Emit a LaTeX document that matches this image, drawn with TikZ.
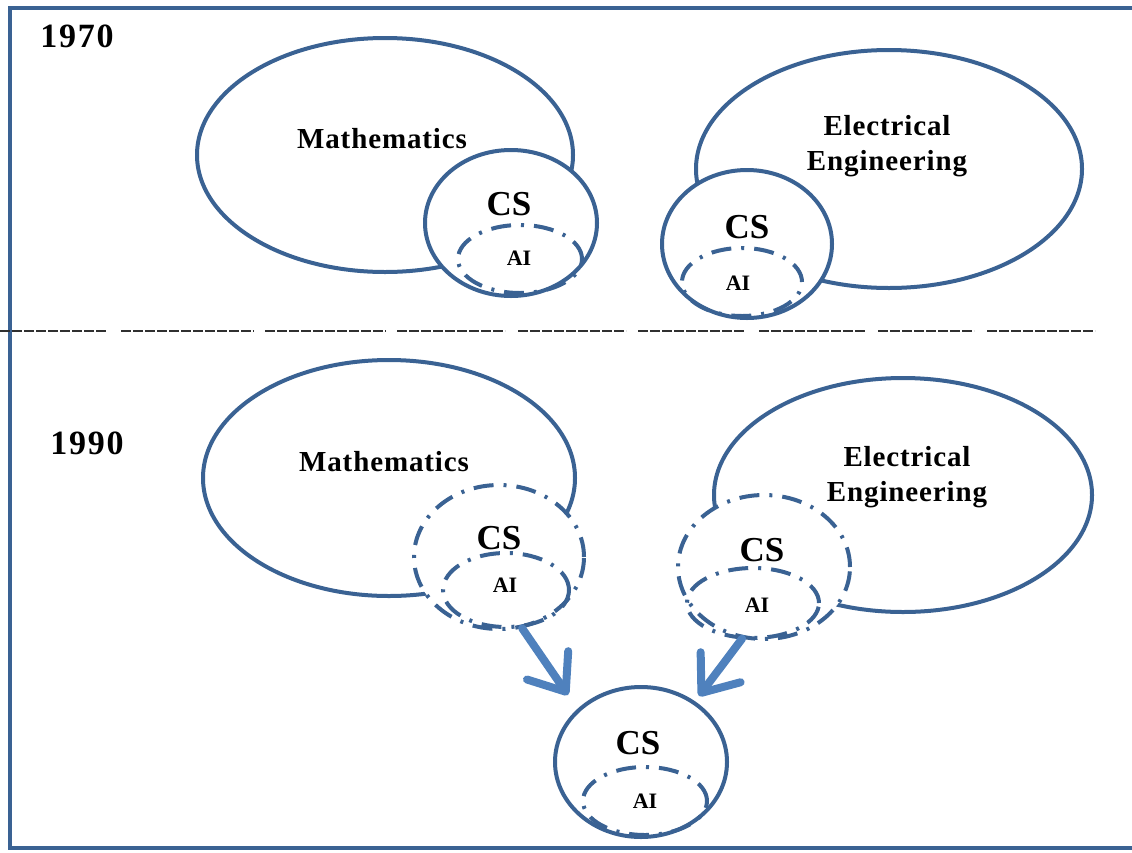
\documentclass[tikz,border=0pt]{standalone}
\usepackage{fontspec}
\setmainfont{Liberation Serif}
\usetikzlibrary{shapes.geometric,arrows.meta}
\definecolor{edge}{HTML}{3A6293}
\definecolor{flow}{HTML}{4F81BD}
\definecolor{sepcol}{HTML}{303030}
\begin{document}
\begin{tikzpicture}[x=1pt,y=-1pt,
  blob/.style={ellipse, draw=edge, line width=4pt, fill=white, inner sep=0pt},
  dashdot/.style={dash pattern=on 20pt off 10pt on 3pt off 10pt},
  aiblob/.style={ellipse, draw=edge, line width=4pt, dashdot, inner sep=0pt},
  field/.style={font=\bfseries\fontsize{29}{35}\selectfont\addfontfeature{LetterSpace=3}, align=center, inner sep=0pt},
  cslbl/.style={font=\bfseries\fontsize{35}{40}\selectfont, inner sep=0pt},
  ailbl/.style={font=\bfseries\fontsize{22}{26}\selectfont, inner sep=0pt},
  yearlbl/.style={font=\bfseries\fontsize{34}{38}\selectfont\addfontfeature{LetterSpace=5}, inner sep=0pt},
  sepline/.style={draw=sepcol, line width=1.6pt, dash pattern=on 10pt off 2pt},
  flowarrow/.style={draw=flow, line width=8pt, line cap=round, line join=round,
    -{Straight Barb[length=32pt,width=50pt,round]}}
]
\useasboundingbox (0,0) rectangle (1132,852);

% frame
\draw[edge, line width=4pt] (1140,8) -- (10,8) -- (10,848) -- (1140,848);

% separator between the two periods
\foreach \a/\b in {0/107,121/254,265/386,397/505,518/626,638/744,759/866,878/974,987/1095}
  \draw[sepline] (\a,331) -- (\b,331);

% ---------------- 1970 ----------------
\node[yearlbl] (y1) at (77,36) {1970};

\node[blob, minimum width=376, minimum height=234] (m1) at (385,155) {};
\node[field] (m1t) at (382,139) {Mathematics};
\node[blob, minimum width=172, minimum height=146] (csm1) at (511,223) {};
\node[aiblob, minimum width=124, minimum height=68] (aim1) at (520,259) {};
\node[cslbl] (csm1t) at (509,204) {CS};
\node[ailbl] (aim1t) at (519,258) {AI};

\node[blob, minimum width=386, minimum height=238] (e1) at (889,169) {};
\node[field] (e1t) at (887,146) {Electrical\\Engineering};
\node[blob, minimum width=170, minimum height=148] (cse1) at (747,244) {};
\node[aiblob, minimum width=120, minimum height=68] (aie1) at (742,282) {};
\node[cslbl] (cse1t) at (747,227) {CS};
\node[ailbl] (aie1t) at (738,283) {AI};

% ---------------- 1990 ----------------
\node[yearlbl] (y2) at (87,443) {1990};

\node[blob, minimum width=372, minimum height=236] (m2) at (389,478) {};
\node[field] (m2t) at (384,462) {Mathematics};
\node[blob, dashdot, minimum width=170, minimum height=144] (csm2) at (499,557) {};
\node[aiblob, minimum width=126, minimum height=74] (aim2) at (506,590) {};
\node[cslbl] (csm2t) at (499,538) {CS};
\node[ailbl] (aim2t) at (505,585) {AI};

\node[blob, minimum width=378, minimum height=234] (e2) at (903,495) {};
\node[field] (e2t) at (907,477) {Electrical\\Engineering};
\node[blob, dashdot, minimum width=172, minimum height=144] (cse2) at (764,567) {};
\node[aiblob, minimum width=132, minimum height=70] (aie2) at (753,603) {};
\node[cslbl] (cse2t) at (762,550) {CS};
\node[ailbl] (aie2t) at (757,605) {AI};

% merged computer science
\node[blob, minimum width=172, minimum height=150] (cs3) at (641,762) {};
\node[aiblob, minimum width=124, minimum height=68] (ai3) at (645,801) {};
\node[cslbl] (cs3t) at (638,743) {CS};
\node[ailbl] (ai3t) at (645,801) {AI};

\coordinate (tipl) at (568,695);
\coordinate (tipr) at (699,696);
\draw[flowarrow] (csm2.-72) -- (tipl);
\draw[flowarrow] (cse2.-107) -- (tipr);
\end{tikzpicture}
\end{document}
